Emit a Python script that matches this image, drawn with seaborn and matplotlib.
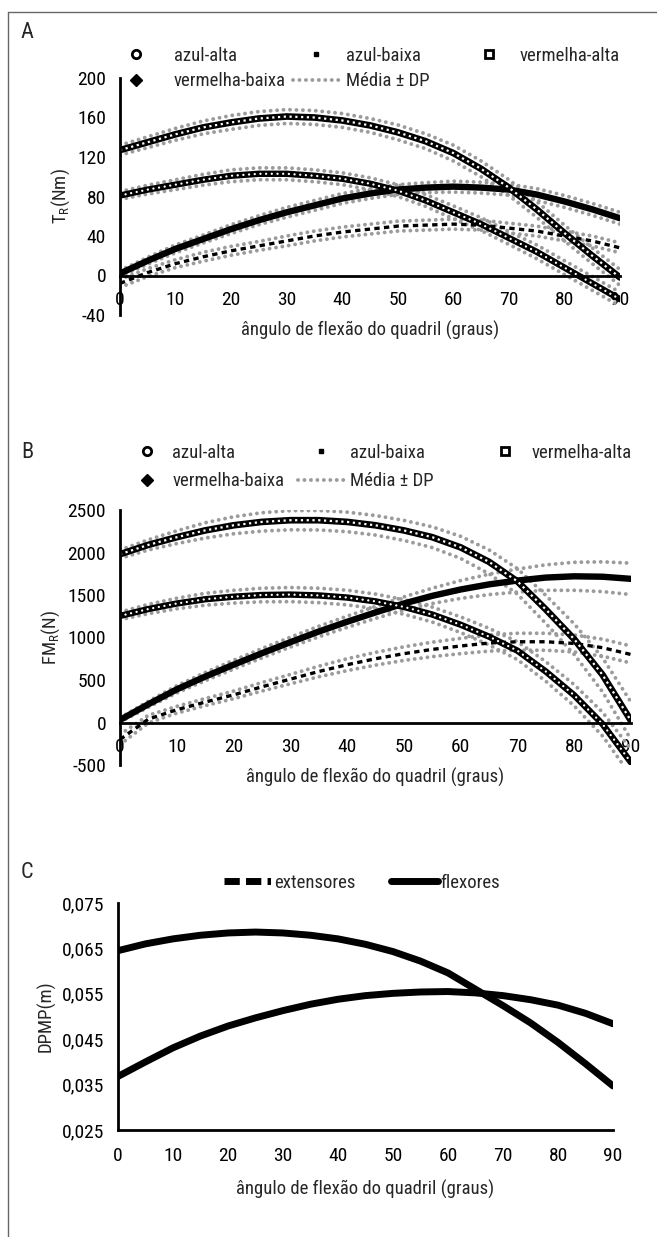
import matplotlib
matplotlib.use("Agg")
import matplotlib.pyplot as plt
from matplotlib.lines import Line2D
from matplotlib.legend import Legend
from matplotlib.ticker import FuncFormatter
import seaborn as sns

sns.set_style("white")
plt.rcParams['font.family'] = ['Roboto Condensed', 'Liberation Sans Narrow', 'Liberation Sans', 'DejaVu Sans']
plt.rcParams['font.stretch'] = 'condensed'
plt.rcParams['mathtext.default'] = 'regular'
plt.rcParams['axes.unicode_minus'] = False

# angulo de flexao do quadril (graus)
angulo = list(range(0, 95, 5))

# A - torque resultante TR (Nm): media e DP
tr_azul_alta = [81, 87, 92, 97, 101, 103, 103, 101, 98, 93, 86, 76, 64, 52, 38, 24, 8, -8, -24]
tr_azul_baixa = [-8, 3, 12, 19, 25, 30, 35, 40, 44, 47, 50, 51, 52, 51, 48, 45, 40, 35, 28]
tr_verm_alta = [127, 135, 143, 150, 155, 159, 161, 160, 157, 152, 145, 136, 124, 108, 89, 67, 43, 20, -2]
tr_verm_baixa = [2, 15, 27, 37, 47, 56, 64, 71, 78, 83, 87, 89, 90, 89, 87, 82, 75, 67, 58]
dp_tr_azul_alta = [4, 4.5, 5, 5.5, 6, 6, 6, 6, 6, 6, 6, 6, 6.5, 6.5, 6.5, 7, 7, 7, 7]
dp_tr_azul_baixa = [4, 4, 4, 4.5, 4.5, 4.5, 5, 5, 5, 5, 5, 5, 5, 5, 5, 5, 5, 5, 5]
dp_tr_verm_alta = [5, 5.5, 6, 6.5, 7, 7, 7, 7, 7, 7, 7.5, 7.5, 8, 8, 8, 8, 8, 8, 8]
dp_tr_verm_baixa = [3, 3.5, 4, 4, 4.5, 4.5, 5, 5, 5, 5, 5, 5, 5.5, 5.5, 5.5, 6, 6, 6, 6]

# B - forca muscular resultante FMR (N): media e DP
fm_azul_alta = [1254, 1335, 1400, 1450, 1480, 1500, 1505, 1495, 1470, 1425, 1360, 1270, 1150, 1010, 845, 600, 320, -20, -470]
fm_azul_baixa = [-200, 40, 150, 240, 325, 420, 510, 600, 680, 750, 810, 860, 900, 935, 950, 950, 930, 880, 800]
fm_verm_alta = [1980, 2090, 2180, 2260, 2320, 2360, 2380, 2380, 2360, 2320, 2260, 2180, 2060, 1890, 1660, 1330, 980, 560, 20]
fm_verm_baixa = [30, 215, 390, 540, 680, 815, 945, 1070, 1185, 1295, 1400, 1490, 1565, 1625, 1670, 1705, 1720, 1715, 1690]
dp_fm_azul_alta = [45, 55, 62, 70, 75, 80, 83, 85, 86, 86, 86, 88, 92, 98, 105, 115, 125, 140, 155]
dp_fm_azul_baixa = [60, 45, 40, 42, 45, 50, 55, 62, 70, 75, 80, 85, 90, 95, 100, 100, 100, 100, 100]
dp_fm_verm_alta = [50, 60, 75, 90, 100, 108, 113, 115, 115, 115, 118, 122, 130, 140, 150, 165, 180, 200, 220]
dp_fm_verm_baixa = [25, 35, 42, 48, 52, 55, 58, 62, 66, 70, 78, 90, 105, 120, 135, 150, 165, 175, 185]

# C - distancia perpendicular musculo-polo DPMP (m)
dpmp_extensores = [0.0645, 0.0660, 0.0671, 0.0679, 0.0684, 0.0686, 0.0684, 0.0679, 0.0671, 0.0659,
                   0.0643, 0.0622, 0.0596, 0.0560, 0.0524, 0.0486, 0.0443, 0.0396, 0.0347]
dpmp_flexores = [0.0368, 0.0400, 0.0431, 0.0457, 0.0479, 0.0497, 0.0513, 0.0527, 0.0538, 0.0546,
                 0.0551, 0.0554, 0.0555, 0.0552, 0.0546, 0.0537, 0.0525, 0.0507, 0.0484]

rotulo_x = "ângulo de flexão do quadril (graus)"
CINZA = '#9b9b9b'
FS_TICK = 14
FS_TXT = 13.5

estilo_cinza = dict(color=CINZA, lw=2.8, linestyle=(0, (0.01, 1.65)), dash_capstyle='round')

W, H = 657, 1237
fig = plt.figure(figsize=(W / 100, H / 100), dpi=100)


def eixos(x0, y0, x1, y1):
    return fig.add_axes([x0 / W, 1 - y1 / H, (x1 - x0) / W, (y1 - y0) / H])


def curva(ax, y, **kw):
    sns.lineplot(x=angulo, y=y, ax=ax, **kw)
    linha = ax.lines[-1]
    if 'dash_capstyle' in kw:
        linha.set_dash_capstyle(kw['dash_capstyle'])
    return linha


def faixa(ax, media, dp):
    curva(ax, [m + d for m, d in zip(media, dp)], **estilo_cinza)
    curva(ax, [m - d for m, d in zip(media, dp)], **estilo_cinza)


def quadrados(ax, y):
    curva(ax, y, color='black', lw=4.8)
    curva(ax, y, color='white', lw=1.6, linestyle=(0, (1.0, 1.6)), dash_capstyle='butt')


def circulos(ax, y):
    curva(ax, y, color='black', lw=4.6)
    curva(ax, y, color='white', lw=1.7, linestyle=(0, (0.01, 2.4)), dash_capstyle='round')


def painel_medias(ax, azul_alta, azul_baixa, verm_alta, verm_baixa, dps):
    for media, dp in zip([verm_alta, azul_alta, verm_baixa, azul_baixa], dps):
        faixa(ax, media, dp)
    curva(ax, azul_baixa, color='black', lw=2.4, linestyle=(0, (1.6, 1.3)))
    curva(ax, verm_baixa, color='black', lw=4.6)
    circulos(ax, azul_alta)
    quadrados(ax, verm_alta)
    ax.set_xlim(0, 90)
    ax.set_xticks(range(0, 100, 10))
    for s in ['top', 'right']:
        ax.spines[s].set_visible(False)
    ax.spines['bottom'].set_position(('data', 0))
    for s in ['left', 'bottom']:
        ax.spines[s].set_linewidth(2)
        ax.spines[s].set_color('black')
    ax.tick_params(direction='out', length=5, width=1.8, colors='black', labelsize=FS_TICK)
    ax.tick_params(axis='x', pad=6)
    ax.tick_params(axis='y', pad=5)
    ax.set_xlabel(rotulo_x, fontsize=FS_TXT, labelpad=9)


def coluna(ax, handles, labels, x, y, hl, pad, spacing):
    leg = Legend(ax, handles, labels, loc='upper left', bbox_to_anchor=(x / W, 1 - y / H),
                 bbox_transform=fig.transFigure, frameon=False, fontsize=FS_TXT,
                 handlelength=hl, handletextpad=pad, labelspacing=spacing,
                 borderpad=0, borderaxespad=0)
    ax.add_artist(leg)


def handles_medias():
    h_aa = Line2D([], [], ls='none', marker='o', ms=6, mfc='white', mec='black', mew=2)
    h_ab = Line2D([], [], ls='none', marker='s', ms=3.2, mfc='black', mec='black')
    h_va = Line2D([], [], ls='none', marker='s', ms=6, mfc='white', mec='black', mew=2)
    h_vb = Line2D([], [], ls='none', marker='D', ms=6, mfc='black', mec='black')
    h_dp = Line2D([], [], **estilo_cinza)
    return h_aa, h_ab, h_va, h_vb, h_dp


# moldura
fig.add_artist(Line2D([8 / W, 8 / W], [0, 1 - 12 / H], transform=fig.transFigure, color='#666666', lw=1))
fig.add_artist(Line2D([8 / W, 1], [1 - 12 / H, 1 - 12 / H], transform=fig.transFigure, color='#666666', lw=1))

# A
axA = eixos(120, 78, 620, 315)
painel_medias(axA, tr_azul_alta, tr_azul_baixa, tr_verm_alta, tr_verm_baixa,
              [dp_tr_verm_alta, dp_tr_azul_alta, dp_tr_verm_baixa, dp_tr_azul_baixa])
axA.set_ylim(-40, 200)
axA.set_yticks(range(-40, 240, 40))
axA.set_ylabel('T$_R$(Nm)', fontsize=FS_TXT)
h_aa, h_ab, h_va, h_vb, h_dp = handles_medias()
coluna(axA, [h_aa, h_vb], ['azul-alta', 'vermelha-baixa'], 113, 47, 2.4, 0.85, 0.4)
coluna(axA, [h_ab, h_dp], ['azul-baixa', 'Média ± DP'], 293, 47, 2.45, 0.37, 0.4)
coluna(axA, [h_va], ['vermelha-alta'], 466, 47, 2.4, 0.45, 0.4)
fig.text(27 / W, 1 - 33 / H, 'A', fontsize=16, ha='center', va='center')

# B
axB = eixos(120, 510, 631, 765)
painel_medias(axB, fm_azul_alta, fm_azul_baixa, fm_verm_alta, fm_verm_baixa,
              [dp_fm_verm_alta, dp_fm_azul_alta, dp_fm_verm_baixa, dp_fm_azul_baixa])
axB.set_ylim(-500, 2500)
axB.set_yticks(range(-500, 3000, 500))
axB.set_ylabel('FM$_R$(N)', fontsize=FS_TXT)
h_aa, h_ab, h_va, h_vb, h_dp = handles_medias()
coluna(axB, [h_aa, h_vb], ['azul-alta', 'vermelha-baixa'], 132, 444, 1.6, 0.55, 0.55)
coluna(axB, [h_ab, h_dp], ['azul-baixa', 'Média ± DP'], 298, 444, 2.45, 0.32, 0.55)
coluna(axB, [h_va], ['vermelha-alta'], 490, 444, 1.6, 0.6, 0.55)
fig.text(27 / W, 1 - 452 / H, 'B', fontsize=16, ha='center', va='center')

# C
axC = eixos(118, 903, 613, 1130)
curva(axC, dpmp_extensores, color='black', lw=5)
curva(axC, dpmp_flexores, color='black', lw=5)
axC.set_xlim(0, 90)
axC.set_xticks(range(0, 100, 10))
axC.set_ylim(0.025, 0.075)
axC.set_yticks([0.025, 0.035, 0.045, 0.055, 0.065, 0.075])
axC.yaxis.set_major_formatter(FuncFormatter(lambda v, p: f"{v:.3f}".replace('.', ',')))
for s in ['top', 'right']:
    axC.spines[s].set_visible(False)
for s in ['left', 'bottom']:
    axC.spines[s].set_linewidth(2)
    axC.spines[s].set_color('black')
axC.tick_params(direction='out', length=5, width=1.8, colors='black', labelsize=FS_TICK)
axC.tick_params(axis='x', pad=7)
axC.tick_params(axis='y', pad=5)
axC.set_xlabel(rotulo_x, fontsize=FS_TXT, labelpad=11)
axC.set_ylabel('DPMP(m)', fontsize=FS_TXT)
h_ext = Line2D([], [], color='black', lw=5, linestyle=(0, (2.2, 0.9, 2.2, 0.9, 0.5, 0.9)))
h_flex = Line2D([], [], color='black', lw=5)
axC.legend([h_ext, h_flex], ['extensores', 'flexores'], ncol=2, loc='upper left',
           bbox_to_anchor=(224 / W, 1 - 874 / H), bbox_transform=fig.transFigure,
           frameon=False, fontsize=FS_TXT, handlelength=2.5, handletextpad=0.15,
           columnspacing=1.9, borderpad=0, borderaxespad=0)
fig.text(27 / W, 1 - 872 / H, 'C', fontsize=16, ha='center', va='center')

fig.savefig('out.png', dpi=100)
